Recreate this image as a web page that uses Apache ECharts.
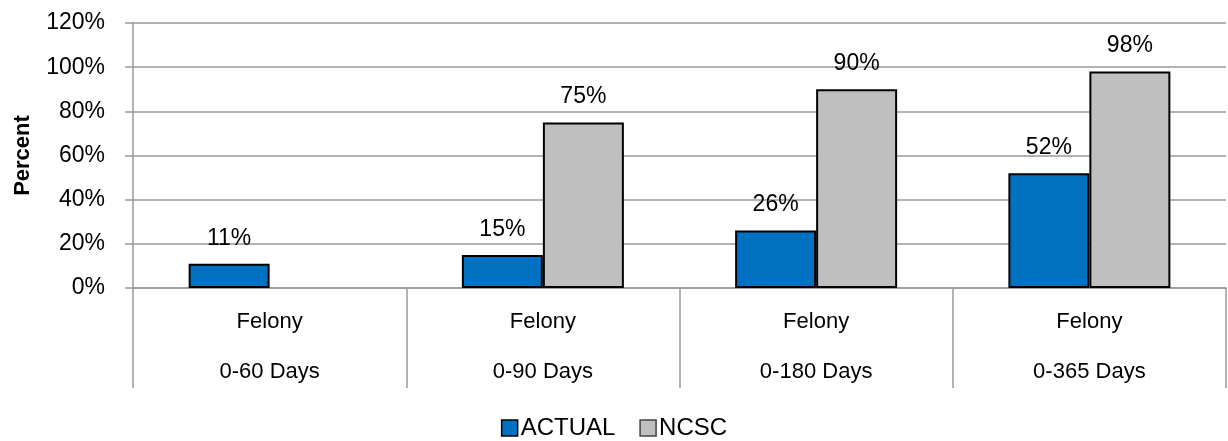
<!DOCTYPE html>
<html>
<head>
<meta charset="utf-8">
<script src="https://cdn.jsdelivr.net/npm/echarts@6/dist/echarts.min.js"></script>
<style>
html,body{margin:0;padding:0;background:#fff;}
#chart{width:1228px;height:441px;}
</style>
</head>
<body>
<div id="chart"></div>
<script>
const groups = ['Felony', 'Felony', 'Felony', 'Felony'];
const periods = ['0-60 Days', '0-90 Days', '0-180 Days', '0-365 Days'];
const actual = [11, 15, 26, 52];
const ncsc = [null, 75, 90, 98];
const yTicks = [0, 20, 40, 60, 80, 100, 120];

const categories = groups.map((g, i) => g + '\n' + periods[i]);
const FONT = '"Liberation Sans", Arial, sans-serif';

const chart = echarts.init(document.getElementById('chart'), null, {renderer: 'canvas'});
chart.setOption({
  animation: false,
  textStyle: {fontFamily: FONT},
  grid: {left: 133, right: 2, top: 23, bottom: 153, containLabel: false, outerBoundsMode: 'none'},
  legend: {
    top: 409,
    left: 'center',
    itemWidth: 16, itemHeight: 16, itemGap: 24,
    icon: 'rect',
    textStyle: {fontSize: 24, lineHeight: 28, color: '#000', fontFamily: FONT, padding: [0, 0, 0, -2]},
    data: [
      {name: 'ACTUAL', itemStyle: {borderColor: '#000', borderWidth: 1.5}},
      {name: 'NCSC', itemStyle: {borderColor: '#444', borderWidth: 1.5}}
    ]
  },
  xAxis: {
    type: 'category',
    data: categories,
    axisLine: {show: true, lineStyle: {color: '#999', width: 1.5}},
    axisTick: {show: true, length: 100, lineStyle: {color: '#999', width: 1.5}},
    axisLabel: {
      fontSize: 22, color: '#000', fontFamily: FONT,
      lineHeight: 50, margin: 9, interval: 0
    },
    splitLine: {show: false}
  },
  yAxis: {
    type: 'value',
    min: yTicks[0], max: yTicks[yTicks.length - 1], interval: 20,
    name: 'Percent',
    nameLocation: 'middle',
    nameRotate: 90,
    nameGap: 99,
    nameMoveOverlap: false,
    nameTextStyle: {fontSize: 22, fontWeight: 'bold', color: '#000', fontFamily: FONT},
    axisLine: {show: true, lineStyle: {color: '#999', width: 1.5}},
    axisTick: {show: true, length: 8, lineStyle: {color: '#999', width: 1.5}},
    axisLabel: {formatter: '{value}%', fontSize: 23, color: '#000', margin: 28, fontFamily: FONT},
    splitLine: {show: true, lineStyle: {color: '#999', width: 1.5}}
  },
  series: [
    {
      name: 'ACTUAL', type: 'bar', data: actual,
      barWidth: 81, barGap: '0%',
      itemStyle: {color: '#0070C0', borderColor: '#000', borderWidth: 2},
      label: {show: true, position: 'top', distance: 14, fontSize: 23, color: '#000', formatter: '{c}%', fontFamily: FONT}
    },
    {
      name: 'NCSC', type: 'bar', data: ncsc,
      barWidth: 81, barGap: '0%',
      itemStyle: {color: '#BFBFBF', borderColor: '#000', borderWidth: 2},
      label: {show: true, position: 'top', distance: 14, fontSize: 23, color: '#000', formatter: '{c}%', fontFamily: FONT}
    }
  ]
});
</script>
</body>
</html>
